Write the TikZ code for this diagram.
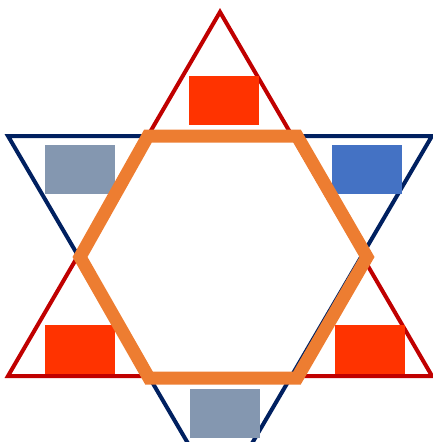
\documentclass[tikz,border=0pt]{standalone}
\usepackage{xcolor}
\definecolor{starred}{HTML}{C00000}
\definecolor{starblue}{HTML}{002060}
\definecolor{ringorange}{HTML}{ED7D31}
\definecolor{boxred}{HTML}{FF3300}
\definecolor{boxgrey}{HTML}{8497B0}
\definecolor{boxblue}{HTML}{4472C4}

\begin{document}
\begin{tikzpicture}[x=1pt,y=-1pt,
    tri/.style={line width=4pt},
    box/.style={minimum width=70pt, minimum height=49pt, inner sep=0pt}]
  % picture frame
  \useasboundingbox (0,0) rectangle (433,442);
  \clip (0,0) rectangle (433,442);

  % Upward triangle
  \coordinate (up) at (220,12);
  \coordinate (upl) at (8,376);
  \coordinate (upr) at (432,376);
  \draw[tri, starred] (up) -- (upl) -- (upr) -- cycle;

  % Downward triangle
  \coordinate (dnl) at (8,136);
  \coordinate (dnr) at (432,136);
  \coordinate (dn) at (220,498);
  \draw[tri, starblue] (dnl) -- (dnr) -- (dn) -- cycle;

  % Boxes in the points
  \node[box, fill=boxred]  (ptop)  at (224,100.5) {};
  \node[box, fill=boxgrey] (pul)   at (80,169) {};
  \node[box, fill=boxblue] (pur)   at (367,169) {};
  \node[box, fill=boxred]  (pll)   at (80,349) {};
  \node[box, fill=boxred]  (plr)   at (370,349.5) {};
  \node[box, fill=boxgrey] (pbot)  at (225,413.5) {};

  % Inner hexagon
  \coordinate (h1) at (148,136);
  \coordinate (h2) at (297,136);
  \coordinate (h3) at (367,257);
  \coordinate (h4) at (297,378);
  \coordinate (h5) at (149,378);
  \coordinate (h6) at (80,257);
  \draw[ringorange, line width=13pt] (h1) -- (h2) -- (h3) -- (h4) -- (h5) -- (h6) -- cycle;
\end{tikzpicture}
\end{document}
